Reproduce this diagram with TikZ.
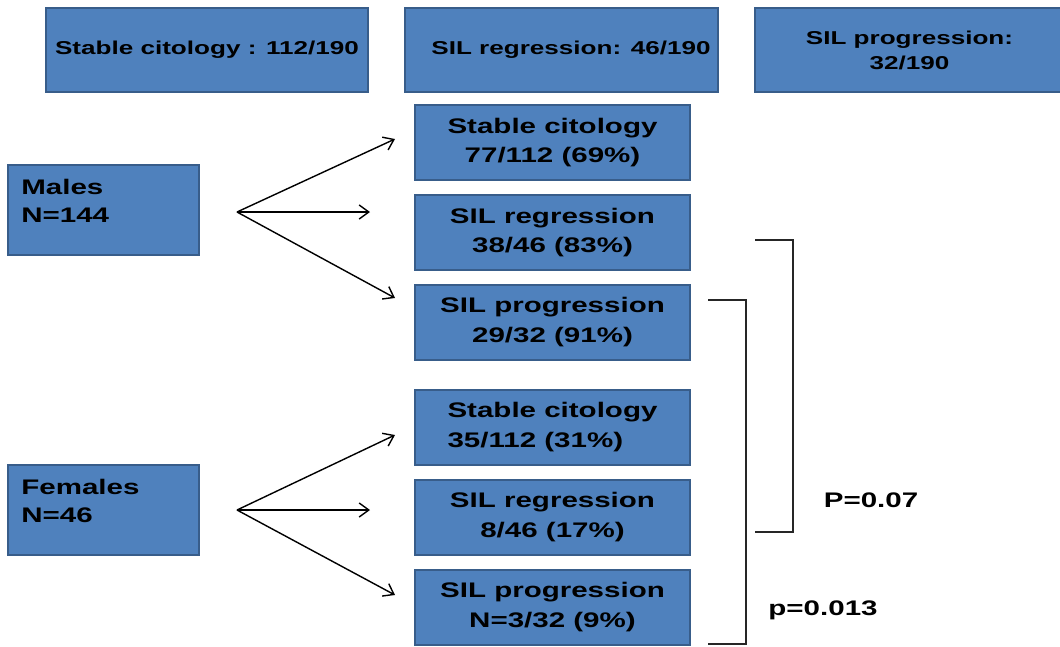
\documentclass[tikz,border=0pt]{standalone}
\usepackage{fontspec}
\setmainfont[FakeStretch=1.4]{Liberation Sans}
\usetikzlibrary{arrows.meta, positioning, calc}
\definecolor{boxblue}{RGB}{79,129,189}
\definecolor{boxedge}{RGB}{56,93,138}

\begin{document}
\begin{tikzpicture}[x=0.02cm, y=-0.02cm,
    box/.style={draw=boxedge, line width=0.04cm, fill=boxblue, align=center,
        font=\bfseries\fontsize{12}{17}\selectfont,
        minimum width=5.5cm, minimum height=1.5cm, inner sep=0pt},
    topbox/.style={box, font=\bfseries\fontsize{10.6}{14.2}\selectfont, minimum height=1.68cm},
    groupbox/.style={box, minimum width=3.82cm, minimum height=1.8cm},
    grouptext/.style={anchor=north west, align=left, inner sep=0pt,
        font=\bfseries\fontsize{12}{16}\selectfont},
    fan/.style={->, line width=0.8pt},
    bracket/.style={line width=0.8pt, black!85},
    pval/.style={font=\bfseries\fontsize{12}{17}\selectfont},
    >={Straight Barb[length=5.5pt,width=8pt]}]
    \useasboundingbox (0,0) rectangle (1060,646);

    % Totals
    \node[topbox, minimum width=6.44cm] (totStable) at (207,50) {Stable citology : 112/190};
    \node[topbox, minimum width=6.26cm] (totReg) at (561.5,50) {\hspace{0.38cm}SIL regression: 46/190};
    \node[topbox, minimum width=6.18cm] (totProg) at (909.5,50) {SIL progression:\\32/190};

    % Groups
    \node[groupbox] (males) at (103.5,210) {};
    \node[grouptext] (malesT) at ($(males.north west)+(14,15)$) {Males\\N=144};
    \node[groupbox] (females) at (103.5,510) {};
    \node[grouptext] (femalesT) at ($(females.north west)+(14,15)$) {Females\\N=46};

    % Males outcome
    \node[box] (stableM) at (552.5,142.5) {Stable citology\\77/112 (69\%)};
    \node[box, below=0.26cm of stableM] (regM) {SIL regression\\38/46 (83\%)};
    \node[box, below=0.26cm of regM] (progM) {SIL progression\\29/32 (91\%)};

    % Females outcome
    \node[box, align=left, below=0.56cm of progM] (stableF) {Stable citology\\35/112 (31\%)};
    \node[box, below=0.26cm of stableF] (regF) {SIL regression\\8/46 (17\%)};
    \node[box, below=0.26cm of regF] (progF) {SIL progression\\N=3/32 (9\%)};

    % Fans
    \coordinate (fanM) at (237,212);
    \coordinate (toStableM) at (395,139);
    \coordinate (toRegM) at (370,212);
    \coordinate (toProgM) at (395,298);
    \draw[fan] (fanM) -- (toStableM);
    \draw[fan] (fanM) -- (toRegM);
    \draw[fan] (fanM) -- (toProgM);

    \coordinate (fanF) at (237,510);
    \coordinate (toStableF) at (395,435);
    \coordinate (toRegF) at (370,510);
    \coordinate (toProgF) at (395,595);
    \draw[fan] (fanF) -- (toStableF);
    \draw[fan] (fanF) -- (toRegF);
    \draw[fan] (fanF) -- (toProgF);

    % Comparisons
    \coordinate (regTop) at (755,240);
    \coordinate (regBot) at (755,532);
    \draw[bracket] (regTop) -| (793,386) |- (regBot);
    \node[pval] (pReg) at (871,500) {P=0.07};

    \coordinate (progTop) at (708,300);
    \coordinate (progBot) at (708,644);
    \draw[bracket] (progTop) -| (746,472) |- (progBot);
    \node[pval] (pProg) at (823,610) {p=0.013};
\end{tikzpicture}
\end{document}
